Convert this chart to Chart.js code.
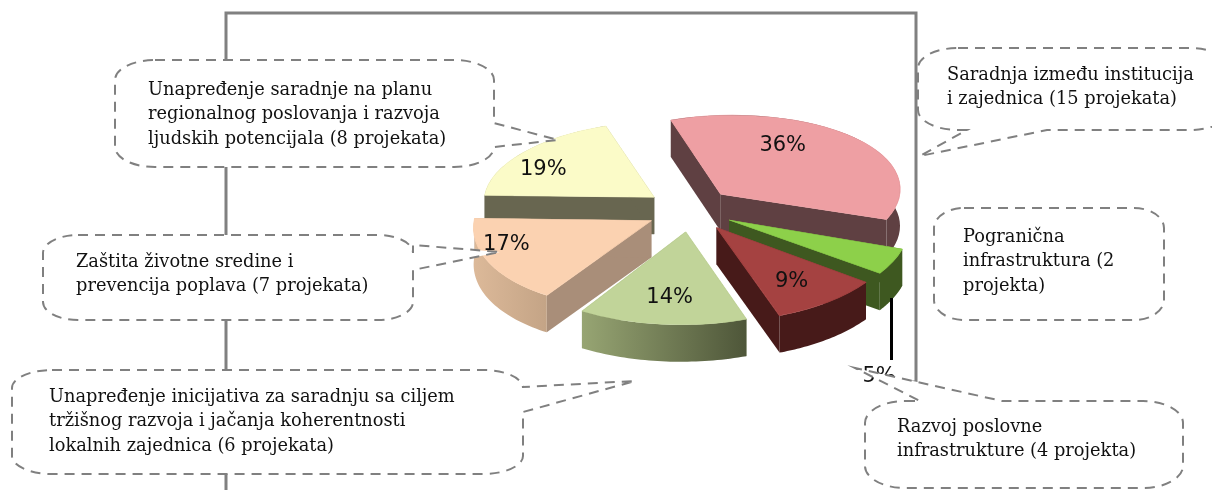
<!DOCTYPE html>
<html>
<head>
<meta charset="utf-8">
<title>Projekti</title>
<style>
  html, body { margin: 0; padding: 0; background: #fff; overflow: hidden; }
  canvas { display: block; }
</style>
<script src="https://cdn.jsdelivr.net/npm/chart.js@4"></script>
</head>
<body>
<canvas id="pieChart" width="1212" height="490"></canvas>
<script>
// podaci
const categories = [
    ['Saradnja između institucija', 'i zajednica (15 projekata)'],
    ['Pogranična', 'infrastruktura (2', 'projekta)'],
    ['Razvoj poslovne', 'infrastrukture (4 projekta)'],
    ['Unapređenje inicijativa za saradnju sa ciljem', 'tržišnog razvoja i jačanja koherentnosti', 'lokalnih zajednica (6 projekata)'],
    ['Zaštita životne sredine i', 'prevencija poplava (7 projekata)'],
    ['Unapređenje saradnje na planu', 'regionalnog poslovanja i razvoja', 'ljudskih potencijala (8 projekata)']
];
const projectCounts = [15, 2, 4, 6, 7, 8];
const percentLabels = ['36%', '5%', '9%', '14%', '17%', '19%'];

// boje
const topColors = ['#EE9FA3', '#8DD04A', '#A54241', '#C1D499', '#FBD2B1', '#FBFBC8'];
const cutColors = ['#5F4042', '#3E5820', '#471A19', '#6E7A50', '#A98E79', '#686650'];
const bandFrom = ['#5F4042', '#3E5820', '#471A19', '#97A573', '#DCB999', '#686650'];
const bandTo = ['#5F4042', '#3E5820', '#471A19', '#4E5639', '#C4A486', '#686650'];
const drawOrder = [0, 5, 1, 2, 4, 3];

// izgled pite: perspektiva se priblizava posebno za svaki isecak
const pie = { cx: 690, cy: 210, squash: 0.5, explode: 44, depth: 37 };
const sliceScaleX = [1.04, 1.046, 1.07, 1.11, 1.03, 0.988];
const sliceShear = [-0.07, 0.045, 0, -0.028, -0.083, -0.06];
const sliceScaleY = [0.46, 0.53, 0.545, 0.54, 0.51, 0.44];
const labelShift = [[62, -49], [150, 157], [75, 54], [-16, 66], [-145, 24], [-111, -28]];

const calloutBoxes = [
    { x: 918, y: 48, w: 312, h: 82, rx: 40, ry: 20, tx: 947, ty: 75, tail: { side: 'bottom', a: [1047, 130], tip: [920, 156], b: [967, 130] } },
    { x: 934, y: 208, w: 230, h: 112, rx: 30, ry: 20, tx: 963, ty: 237 },
    { x: 865, y: 401, w: 318, h: 87, rx: 40, ry: 22, tx: 897, ty: 427, tail: { side: 'top', a: [920, 401], tip: [855, 368], b: [1002, 401] } },
    { x: 12, y: 370, w: 511, h: 104, rx: 40, ry: 18, tx: 49, ty: 397, tail: { side: 'right', a: [523, 387], tip: [635, 381], b: [523, 412] } },
    { x: 43, y: 235, w: 370, h: 85, rx: 35, ry: 18, tx: 76, ty: 262, tail: { side: 'right', a: [413, 245], tip: [500, 252], b: [413, 270] } },
    { x: 115, y: 60, w: 379, h: 107, rx: 40, ry: 20, tx: 148, ty: 90, tail: { side: 'right', a: [494, 123], tip: [558, 140], b: [494, 147] } }
];

function sliceMatrix(arc, i) {
    const mid = (arc.startAngle + arc.endAngle) / 2;
    return {
        a: sliceScaleX[i],
        c: sliceShear[i],
        d: sliceScaleY[i],
        ax: pie.cx + pie.explode * Math.cos(mid),
        ay: pie.cy + pie.explode * pie.squash * Math.sin(mid)
    };
}

function slicePoint(m, angle, r) {
    const u = r * Math.cos(angle), v = r * Math.sin(angle);
    return [m.ax + m.a * u + m.c * v, m.ay + m.d * v];
}

function drawSides(ctx, arc, i) {
    const m = sliceMatrix(arc, i);
    const r = arc.outerRadius, h = pie.depth;
    // bocne strane reza
    [arc.startAngle, arc.endAngle].forEach(angle => {
        const p = slicePoint(m, angle, r);
        ctx.beginPath();
        ctx.moveTo(m.ax, m.ay);
        ctx.lineTo(p[0], p[1]);
        ctx.lineTo(p[0], p[1] + h);
        ctx.lineTo(m.ax, m.ay + h);
        ctx.closePath();
        ctx.fillStyle = cutColors[i];
        ctx.fill();
    });
    // spoljni obod
    const steps = 40;
    const pts = [];
    for (let s = 0; s <= steps; s++) {
        pts.push(slicePoint(m, arc.startAngle + (arc.endAngle - arc.startAngle) * s / steps, r));
    }
    const xs = pts.map(p => p[0]);
    const grad = ctx.createLinearGradient(Math.min(...xs), 0, Math.max(...xs), 0);
    grad.addColorStop(0, bandFrom[i]);
    grad.addColorStop(1, bandTo[i]);
    ctx.beginPath();
    pts.forEach((p, k) => k ? ctx.lineTo(p[0], p[1]) : ctx.moveTo(p[0], p[1]));
    pts.slice().reverse().forEach(p => ctx.lineTo(p[0], p[1] + h));
    ctx.closePath();
    ctx.fillStyle = grad;
    ctx.fill();
}

function drawFrame(ctx) {
    ctx.strokeStyle = '#808080';
    ctx.lineWidth = 3;
    ctx.beginPath();
    ctx.moveTo(226, 490);
    ctx.lineTo(226, 13);
    ctx.lineTo(916, 13);
    ctx.lineTo(916, 382);
    ctx.lineTo(894, 382);
    ctx.stroke();
}

function calloutPath(ctx, box) {
    const { x, y, w, h, rx, ry, tail } = box;
    const k = 0.55;
    const side = name => {
        if (tail && tail.side === name) {
            ctx.lineTo(tail.a[0], tail.a[1]);
            ctx.lineTo(tail.tip[0], tail.tip[1]);
            ctx.lineTo(tail.b[0], tail.b[1]);
        }
    };
    ctx.beginPath();
    ctx.moveTo(x + rx, y);
    side('top');
    ctx.lineTo(x + w - rx, y);
    ctx.bezierCurveTo(x + w - rx + rx * k, y, x + w, y + ry - ry * k, x + w, y + ry);
    side('right');
    ctx.lineTo(x + w, y + h - ry);
    ctx.bezierCurveTo(x + w, y + h - ry + ry * k, x + w - rx + rx * k, y + h, x + w - rx, y + h);
    side('bottom');
    ctx.lineTo(x + rx, y + h);
    ctx.bezierCurveTo(x + rx - rx * k, y + h, x, y + h - ry + ry * k, x, y + h - ry);
    ctx.lineTo(x, y + ry);
    ctx.bezierCurveTo(x, y + ry - ry * k, x + rx - rx * k, y, x + rx, y);
    ctx.closePath();
}

function drawCallouts(ctx) {
    calloutBoxes.forEach((box, i) => {
        calloutPath(ctx, box);
        ctx.fillStyle = '#fff';
        ctx.fill();
        ctx.setLineDash([10, 7]);
        ctx.lineWidth = 2;
        ctx.strokeStyle = '#808080';
        ctx.stroke();
        ctx.setLineDash([]);
        ctx.fillStyle = '#111';
        ctx.font = '17.8px "DejaVu Serif"';
        ctx.textAlign = 'left';
        ctx.textBaseline = 'middle';
        categories[i].forEach((line, n) => ctx.fillText(line, box.tx, box.ty + n * 24.7));
    });
}

const pie3d = {
    id: 'pie3d',
    beforeDatasetsDraw(chart) {
        const ctx = chart.ctx;
        const arcs = chart.getDatasetMeta(0).data;
        drawFrame(ctx);
        drawOrder.forEach(i => {
            const arc = arcs[i];
            const m = sliceMatrix(arc, i);
            drawSides(ctx, arc, i);
            ctx.save();
            ctx.setTransform(m.a, 0, m.c, m.d, m.ax - m.a * arc.x - m.c * arc.y, m.ay - m.d * arc.y);
            arc.draw(ctx);
            ctx.restore();
        });
        // linija ka oznaci 5%
        ctx.fillStyle = '#000';
        ctx.fillRect(890, 298, 3, 62);
        ctx.fillStyle = '#111';
        ctx.font = '21px "DejaVu Sans ExtraLight", "DejaVu Sans"';
        ctx.textAlign = 'center';
        ctx.textBaseline = 'middle';
        percentLabels.forEach((label, i) => {
            const m = sliceMatrix(arcs[i], i);
            ctx.fillText(label, m.ax + labelShift[i][0], m.ay + labelShift[i][1]);
        });
        drawCallouts(ctx);
        return false;
    }
};

new Chart(document.getElementById('pieChart').getContext('2d'), {
    type: 'pie',
    data: {
        labels: categories,
        datasets: [{
            data: projectCounts,
            backgroundColor: topColors,
            borderColor: topColors,
            borderWidth: 1
        }]
    },
    options: {
        responsive: false,
        animation: false,
        rotation: -20,
        radius: 172,
        plugins: {
            legend: { display: false },
            tooltip: { enabled: false }
        }
    },
    plugins: [pie3d]
});
</script>
</body>
</html>
